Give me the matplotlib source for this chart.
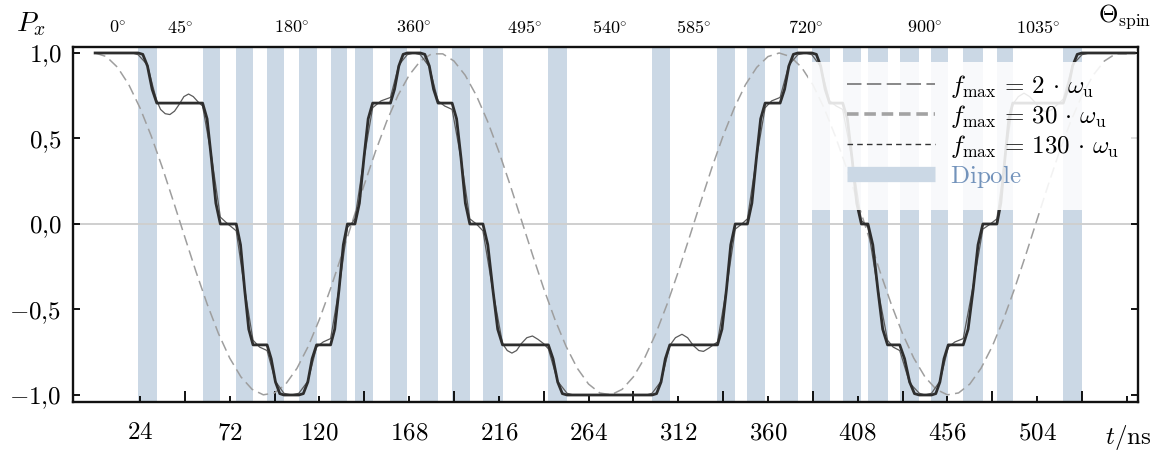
import numpy as np
import matplotlib
matplotlib.use("Agg")
import matplotlib.pyplot as plt
from matplotlib.lines import Line2D
from matplotlib.patches import Rectangle

plt.rcParams['mathtext.fontset'] = 'cm'
plt.rcParams['font.family'] = ['DejaVu Serif']

# Dipole pulse windows (ns)
pulse_start = [23, 57.5, 75.5, 92, 109, 126, 139, 158, 174, 191, 207.5, 242.5,
               298, 333, 349, 366.5, 383.5, 400, 413.5, 430.5, 447.5, 464.5, 482.5, 518]
pulse_end = [33, 67, 84.5, 101, 118.5, 135, 148.5, 167, 183.5, 200.5, 218, 252.5,
             307.5, 342.5, 358.5, 376, 393, 410, 424, 441, 456.5, 475, 491, 528]

# f_max = 130 w_u : stepped polarisation (one 45 deg turn per dipole pulse)
t_130 = [0,
         23, 25.5, 28, 30.5, 33,
         57.5, 59.9, 62.2, 64.6, 67,
         75.5, 77.8, 80, 82.2, 84.5,
         92, 94.2, 96.5, 98.8, 101,
         109, 111.4, 113.8, 116.1, 118.5,
         126, 128.2, 130.5, 132.8, 135,
         139, 141.4, 143.8, 146.1, 148.5,
         158, 160.2, 162.5, 164.8, 167,
         174, 176.4, 178.8, 181.1, 183.5,
         191, 193.4, 195.8, 198.1, 200.5,
         207.5, 210.1, 212.8, 215.4, 218,
         242.5, 245, 247.5, 250, 252.5,
         298, 300.4, 302.8, 305.1, 307.5,
         333, 335.4, 337.8, 340.1, 342.5,
         349, 351.4, 353.8, 356.1, 358.5,
         366.5, 368.9, 371.2, 373.6, 376,
         383.5, 385.9, 388.2, 390.6, 393,
         400, 402.5, 405, 407.5, 410,
         413.5, 416.1, 418.8, 421.4, 424,
         430.5, 433.1, 435.8, 438.4, 441,
         447.5, 449.8, 452, 454.2, 456.5,
         464.5, 467.1, 469.8, 472.4, 475,
         482.5, 484.6, 486.8, 488.9, 491,
         518, 520.5, 523, 525.5, 528,
         556]
px_130 = [1.0,
          1.0, 0.992, 0.924, 0.788, 0.707,
          0.707, 0.615, 0.383, 0.122, 0.0,
          0.0, -0.122, -0.383, -0.615, -0.707,
          -0.707, -0.788, -0.924, -0.992, -1.0,
          -1.0, -0.992, -0.924, -0.788, -0.707,
          -0.707, -0.615, -0.383, -0.122, 0.0,
          0.0, 0.122, 0.383, 0.615, 0.707,
          0.707, 0.788, 0.924, 0.992, 1.0,
          1.0, 0.992, 0.924, 0.788, 0.707,
          0.707, 0.615, 0.383, 0.122, 0.0,
          0.0, -0.122, -0.383, -0.615, -0.707,
          -0.707, -0.788, -0.924, -0.992, -1.0,
          -1.0, -0.992, -0.924, -0.788, -0.707,
          -0.707, -0.615, -0.383, -0.122, 0.0,
          0.0, 0.122, 0.383, 0.615, 0.707,
          0.707, 0.788, 0.924, 0.992, 1.0,
          1.0, 0.992, 0.924, 0.788, 0.707,
          0.707, 0.615, 0.383, 0.122, 0.0,
          0.0, -0.122, -0.383, -0.615, -0.707,
          -0.707, -0.788, -0.924, -0.992, -1.0,
          -1.0, -0.992, -0.924, -0.788, -0.707,
          -0.707, -0.615, -0.383, -0.122, 0.0,
          0.0, 0.122, 0.383, 0.615, 0.707,
          0.707, 0.788, 0.924, 0.992, 1.0,
          1.0]

# f_max = 30 w_u : band-limited, with ringing on the longer plateaus
t_30 = [0, 20, 23, 28, 31, 33, 35, 37.5, 40, 42.5, 45, 47.5, 50, 52.5, 55, 57.5,
        62.2, 67, 71, 75.5, 80, 84.5, 88, 92,
        96.5, 101, 105, 109, 113.8, 118.5, 122, 126, 130.5, 135, 137, 139, 143.8, 148.5,
        153, 158, 162.5, 167, 170.5, 174, 178.8, 183.5, 187, 191, 195.8, 200.5, 204,
        207.5, 212.8, 218, 220.5, 223, 225.5, 228, 231, 234, 237, 240, 242.5,
        247.5, 252.5, 256, 295, 298, 302.8,
        307.5, 310.5, 314, 317, 320, 323, 325.5, 328.5, 331, 333,
        337.8, 342.5, 346, 349, 353.8, 358.5,
        362, 366.5, 371.2, 376, 380, 383.5, 388.2, 393, 396.5, 400, 405, 410, 412,
        413.5, 418.8, 424, 427, 430.5, 435.8, 441, 444, 447.5, 452, 456.5, 460, 464.5,
        469.8, 475, 479, 482.5, 486.8,
        491, 494, 497, 500, 503, 506, 509, 512, 515, 518,
        523, 528, 532, 556]
px_30 = [1.0, 1.0, 0.99, 0.93, 0.80, 0.72, 0.67, 0.645, 0.64, 0.66, 0.70, 0.745, 0.76,
         0.745, 0.715, 0.69,
         0.40, 0.04, 0.0, -0.04, -0.38, -0.68, -0.72, -0.74,
         -0.92, -0.99, -1.0, -0.99, -0.92, -0.72, -0.69,
         -0.67, -0.38, -0.02, 0.0, 0.03, 0.38, 0.68, 0.72, 0.74, 0.93, 0.99, 1.0, 0.99, 0.92,
         0.72, 0.69, 0.67, 0.38, 0.03, 0.0, -0.04, -0.39,
         -0.70, -0.74, -0.755, -0.74, -0.70, -0.665, -0.655, -0.675, -0.70, -0.73,
         -0.92, -0.99, -1.0, -1.0, -0.99, -0.92,
         -0.71, -0.665, -0.645, -0.665, -0.71, -0.74, -0.745, -0.725, -0.705, -0.69,
         -0.38, -0.03, 0.0, 0.03, 0.38, 0.68, 0.72, 0.74, 0.93, 0.99, 1.0, 0.99, 0.92,
         0.72, 0.69, 0.67, 0.38, 0.02, 0.0, -0.02, -0.38, -0.68, -0.72, -0.74, -0.93, -0.99,
         -1.0, -0.99, -0.92, -0.72, -0.69, -0.67, -0.36, -0.03, 0.0, 0.03, 0.38,
         0.70, 0.745, 0.765, 0.745, 0.71, 0.67, 0.655, 0.67, 0.70, 0.73,
         0.93, 0.99, 1.0, 1.0]

# f_max = 2 w_u : sampled every 6 ns
t_2 = np.arange(0, 553, 6)
px_2 = [1.000, 0.979, 0.916, 0.815, 0.679, 0.515, 0.329, 0.128, -0.077, -0.280, -0.470,
        -0.641, -0.784, -0.894, -0.967, -0.999, -0.988, -0.936, -0.844, -0.716, -0.558,
        -0.377, -0.179, 0.026, 0.230, 0.424, 0.600, 0.751, 0.870, 0.953, 0.995,
        0.995, 0.953, 0.870, 0.751, 0.600, 0.424, 0.230, 0.026, -0.179, -0.377, -0.558,
        -0.716, -0.844, -0.936, -0.988, -0.999, -0.967, -0.894, -0.784, -0.641, -0.470,
        -0.280, -0.077, 0.128, 0.329, 0.515, 0.679, 0.815, 0.916, 0.979,
        1.000, 0.979, 0.916, 0.815, 0.679, 0.515, 0.329, 0.128, -0.077, -0.280, -0.470,
        -0.641, -0.784, -0.894, -0.967, -0.999, -0.988, -0.936, -0.844, -0.716, -0.558,
        -0.377, -0.179, 0.026, 0.230, 0.424, 0.600, 0.751, 0.870, 0.953, 0.995, 0.995]

# Spin angle labels along the top
theta_labels = ['0', '45', '180', '360', '495', '540', '585', '720', '900', '1035']
theta_pos = [12, 45.5, 105, 170.5, 230, 275, 320, 380, 444, 504.5]

t_major = [48, 96, 144, 192, 240, 288, 336, 384, 432, 480, 528]
t_minor = [24, 72, 120, 168, 216, 264, 312, 360, 408, 456, 504, 552]
t_minor_labels = ['24', '72', '120', '168', '216', '264', '312', '360', '408', '456', '504', '']
y_ticks = [-1.0, -0.5, 0.0, 0.5, 1.0]
y_labels = ['-1{,}0', '-0{,}5', '0{,}0', '0{,}5', '1{,}0']

stripe_color = '#cbd8e5'

W, H = 1154, 457
fig = plt.figure(figsize=(W / 100, H / 100), dpi=100)
ax = fig.add_axes([72.7 / W, 1 - 402 / H, (1138 - 72.7) / W, 355 / H])
ax.set_xlim(-12, 558)
ax.set_ylim(-1.041, 1.035)

for s, e in zip(pulse_start, pulse_end):
    ax.axvspan(s, e, color=stripe_color, lw=0, zorder=0)
ax.axhline(0, color='#cfcfcf', lw=1.4, zorder=1)

ax.plot(t_2, px_2, color='#9e9e9e', lw=1.1, dashes=(7, 3.5), zorder=2)
ax.plot(t_30, px_30, color='#5a5a5a', lw=0.9, zorder=3)
ax.plot(t_130, px_130, color='#2e2e2e', lw=2.0, zorder=4, solid_joinstyle='round')

for sp in ax.spines.values():
    sp.set_linewidth(1.7)
    sp.set_color('#111111')
    sp.set_zorder(6)

ax.set_xticks(t_major)
ax.set_xticklabels([''] * len(t_major))
ax.set_xticks(t_minor, labels=[f'${s}$' if s else '' for s in t_minor_labels], minor=True)
ax.tick_params(axis='x', which='major', direction='in', length=8, width=1.3, top=False)
ax.tick_params(axis='x', which='minor', direction='in', length=4, width=1.3, top=False,
               labelsize=18, pad=14)
ax.set_yticks(y_ticks, labels=[f'${s}$' for s in y_labels])
ax.tick_params(axis='y', direction='in', length=5, width=1.3, right=True,
               labelsize=18, pad=8)

for lab, pos in zip(theta_labels, theta_pos):
    ax.text(pos, 1.0535, f'${lab}\\!^\\circ$', transform=ax.get_xaxis_transform(),
            ha='center', va='center', fontsize=13)

fig.text(31 / W, 1 - 24 / H, r'$P_x$', ha='center', va='center', fontsize=20)
fig.text(1151 / W, 1 - 17 / H, r'$\Theta_{\mathrm{spin}}$', ha='right', va='center', fontsize=18)
fig.text(1151 / W, 1 - 437 / H, r'$t/\mathrm{ns}$', ha='right', va='center', fontsize=18)

# translucent backdrop behind the legend
ax.add_patch(Rectangle((0.690, 0.541), 0.310, 0.417, transform=ax.transAxes,
                       facecolor='white', alpha=0.87, lw=0, zorder=5))

handles = [
    Line2D([], [], color='#7f7f7f', lw=1.3, dashes=(8, 3)),
    Line2D([], [], color='#a3a3a3', lw=2.6, dashes=(3.2, 1.6)),
    Line2D([], [], color='#333333', lw=1.0, dashes=(4, 3)),
    Line2D([], [], color=stripe_color, lw=11, solid_capstyle='butt'),
]
labels = [r'$f_{\mathrm{max}}\,=\,2\,\cdot\,\omega_{\mathrm{u}}$',
          r'$f_{\mathrm{max}}\,=\,30\,\cdot\,\omega_{\mathrm{u}}$',
          r'$f_{\mathrm{max}}\,=\,130\,\cdot\,\omega_{\mathrm{u}}$',
          r'$\mathrm{Dipole}$']
leg = ax.legend(handles, labels, loc='upper right', bbox_to_anchor=(0.993, 0.958),
                fontsize=18, frameon=False, handlelength=3.5, handletextpad=0.6,
                labelspacing=0.12, borderpad=0.45, borderaxespad=0)
leg.get_texts()[3].set_color('#7393bb')
leg.set_zorder(7)

fig.savefig('out.png', dpi=100)
